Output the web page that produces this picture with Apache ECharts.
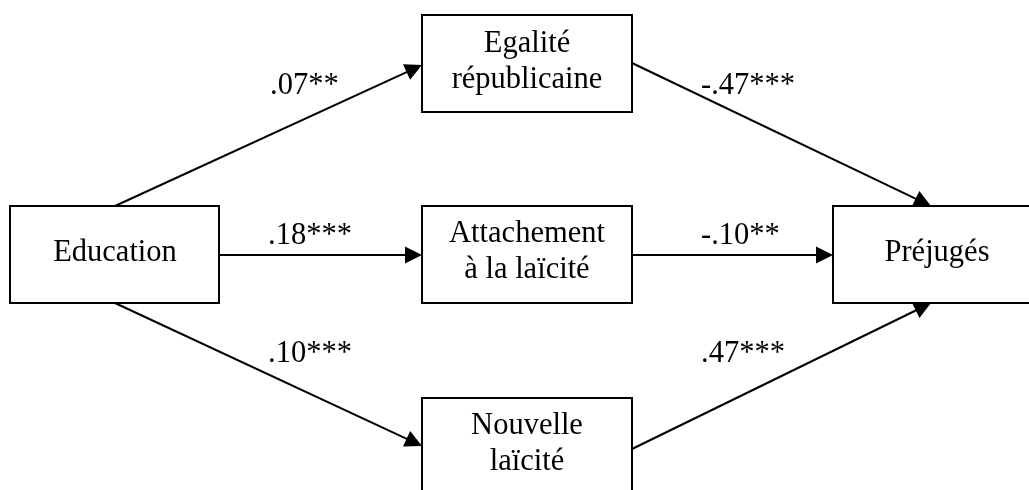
<!DOCTYPE html>
<html>
<head>
<meta charset="utf-8">
<script src="https://cdn.jsdelivr.net/npm/echarts@6/dist/echarts.min.js"></script>
<style>
  html, body { margin: 0; padding: 0; background: #fff; }
  #chart { width: 1029px; height: 490px; }
</style>
</head>
<body>
<div id="chart"></div>
<script>
// path model: variables and coefficients
const nodeNames = ["Education", "Egalité\nrépublicaine", "Attachement\nà la laïcité", "Nouvelle\nlaïcité", "Préjugés"];
const edgeSources = [0, 0, 0, 1, 2, 3];
const edgeTargets = [1, 2, 3, 4, 4, 4];
const coefficients = [".07**", ".18***", ".10***", "-.47***", "-.10**", ".47***"];

// layout on a 1029 x 490 plane
const boxes = [
  [10, 206, 219, 303],
  [422, 15, 632, 112],
  [422, 206, 632, 303],
  [422, 398, 632, 520],
  [833, 206, 1040, 303],
];
const textCenters = [[115, 253], [527, 62], [527, 252], [527, 444], [937, 253]];
const edgeStarts = [[115, 206], [219, 255], [115, 303], [632, 63], [632, 255], [632, 449]];
const edgeTips = [[422, 65], [422, 255], [422, 446], [931, 206], [833, 255], [931, 303]];
const labelAnchors = [[270, 86], [268, 236], [268, 354], [701, 86], [701, 236], [701, 354]];

const FONT = '30.5px "Liberation Serif", "Times New Roman", serif';
const ARROW = 17;

const chartInstance = echarts.init(document.getElementById("chart"));

// the arrow symbol is centred on the end point, so pull it back by half its size
const edgeData = edgeStarts.map((s, i) => {
  const t = edgeTips[i];
  const dx = t[0] - s[0];
  const dy = t[1] - s[1];
  const len = Math.sqrt(dx * dx + dy * dy);
  const back = ARROW / 2;
  return {
    name: nodeNames[edgeSources[i]] + " > " + nodeNames[edgeTargets[i]],
    coords: [s, [t[0] - (dx / len) * back, t[1] - (dy / len) * back]],
  };
});

const boxData = boxes.map((b, i) => [b[0], b[1], b[2], b[3], textCenters[i][0], textCenters[i][1], i]);
const labelData = labelAnchors.map((p, i) => [p[0], p[1], i]);

const option = {
  animation: false,
  backgroundColor: "#fff",
  grid: { left: 0, right: 0, top: 0, bottom: 0 },
  xAxis: { type: "value", min: 0, max: 1029, show: false },
  yAxis: { type: "value", min: 0, max: 490, inverse: true, show: false },
  series: [
    {
      type: "lines",
      coordinateSystem: "cartesian2d",
      symbol: ["none", "triangle"],
      symbolSize: ARROW,
      lineStyle: { color: "#000", width: 2, opacity: 1 },
      itemStyle: { color: "#000" },
      data: edgeData,
      z: 2,
    },
    {
      type: "custom",
      coordinateSystem: "cartesian2d",
      data: boxData,
      z: 3,
      renderItem: (params, api) => {
        const p0 = api.coord([api.value(0), api.value(1)]);
        const p1 = api.coord([api.value(2), api.value(3)]);
        const c = api.coord([api.value(4), api.value(5)]);
        return {
          type: "group",
          children: [
            {
              type: "rect",
              shape: { x: p0[0], y: p0[1], width: p1[0] - p0[0], height: p1[1] - p0[1] },
              style: { fill: "#fff", stroke: "#000", lineWidth: 2 },
            },
            {
              type: "text",
              style: {
                text: nodeNames[api.value(6)],
                x: c[0],
                y: c[1],
                font: FONT,
                fill: "#000",
                align: "center",
                verticalAlign: "middle",
                lineHeight: 36,
              },
            },
          ],
        };
      },
    },
    {
      type: "custom",
      coordinateSystem: "cartesian2d",
      data: labelData,
      z: 4,
      renderItem: (params, api) => {
        const p = api.coord([api.value(0), api.value(1)]);
        return {
          type: "text",
          style: {
            text: coefficients[api.value(2)],
            x: p[0],
            y: p[1],
            font: FONT,
            fill: "#000",
            align: "left",
            verticalAlign: "middle",
          },
        };
      },
    },
  ],
};

chartInstance.setOption(option);
</script>
</body>
</html>
